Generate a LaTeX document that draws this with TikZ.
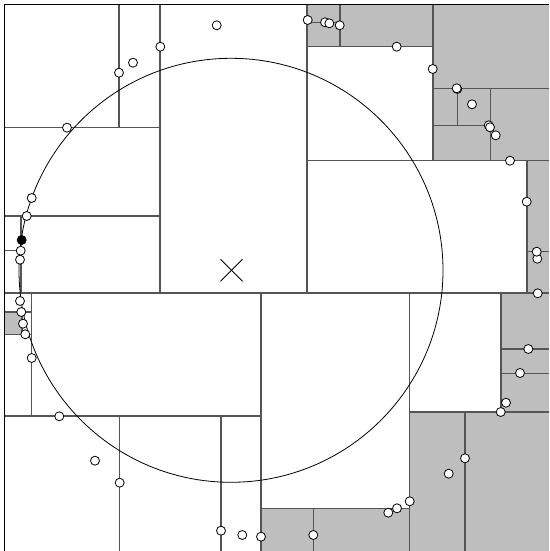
\documentclass[tikz,border=0pt]{standalone}
\begin{document}
\definecolor{shade}{RGB}{190,190,190}
\definecolor{partline}{RGB}{85,85,85}
\begin{tikzpicture}[x=1pt,y=-1pt,
  cell/.style={fill=shade,draw=none},
  part/.style={draw=partline,line width=1.1pt},
  frame/.style={draw=black,line width=1.3pt},
  ball/.style={draw=black,line width=0.8pt},
  pt/.style={circle,draw=black,fill=white,line width=0.8pt,inner sep=0pt,minimum size=9pt},
  nn/.style={pt,fill=black}]
\useasboundingbox (0,0) rectangle (549,551);
% gray cells
\fill[cell] (307,4.3) rectangle (433,46.7);
\fill[cell] (433,4.3) rectangle (549,160.7);
\fill[cell] (527,160.7) rectangle (549,293);
\fill[cell] (501,293) rectangle (549,412);
\fill[cell] (409.5,412) rectangle (549,551);
\fill[cell] (261,508.3) rectangle (409.5,551);
\fill[cell] (4.7,312) rectangle (22,334.3);
% partition lines, top half
\draw[part] (4.7,293)--(549,293);
\draw[part] (160,4.3)--(160,293);
\draw[part] (4.7,127.5)--(160,127.5);
\draw[part] (119,4.3)--(119,127.5);
\draw[part] (4.7,216)--(160,216);
\draw[part] (21,216)--(21,293);
\draw[part] (4.7,250.5)--(21,250.5);
\draw[part] (307,4.3)--(307,293);
\draw[part] (307,160.7)--(549,160.7);
\draw[part] (433,4.3)--(433,160.7);
\draw[part] (307,46.7)--(433,46.7);
\draw[part] (340,4.3)--(340,46.7);
\draw[part] (307,22.5)--(340,22.5);
\draw[part] (433,88.3)--(549,88.3);
\draw[part] (490.5,88.3)--(490.5,160.7);
\draw[part] (433,125.3)--(490.5,125.3);
\draw[part] (457.7,88.3)--(457.7,125.3);
\draw[part] (527,160.7)--(527,293);
\draw[part] (527,251.7)--(549,251.7);
% partition lines, bottom half
\draw[part] (261,293)--(261,551);
\draw[part] (409.5,293)--(409.5,551);
\draw[part] (4.7,416)--(261,416);
\draw[part] (31.7,293)--(31.7,416);
\draw[part] (4.7,312)--(31.7,312);
\draw[part] (4.7,334.3)--(31.7,334.3);
\draw[part] (22,312)--(22,334.3);
\draw[part] (119.7,416)--(119.7,551);
\draw[part] (221,416)--(221,551);
\draw[part] (261,508.3)--(409.5,508.3);
\draw[part] (313.3,508.3)--(313.3,551);
\draw[part] (409.5,412)--(549,412);
\draw[part] (501,293)--(501,412);
\draw[part] (501,349)--(549,349);
\draw[part] (501,373.3)--(549,373.3);
\draw[part] (465,412)--(465,551);
% frame
\draw[frame] (4.7,551)--(4.7,4.3)--(549,4.3);
% search ball and query
\draw[ball] (231,270.3) circle[radius=212pt];
\coordinate (q) at (231.5,270.3);
\draw[ball] ([shift={(-11,-11)}]q)--([shift={(11,11)}]q);
\draw[ball] ([shift={(-11,11)}]q)--([shift={(11,-11)}]q);
% points
\node[pt] (p1) at (216.7,25.3) {};
\node[pt] (p2) at (160.3,46.7) {};
\node[pt] (p3) at (133,62.7) {};
\node[pt] (p4) at (119,72.7) {};
\node[pt] (p5) at (67,127.7) {};
\node[pt] (p6) at (31.7,198) {};
\node[pt] (p7) at (26.7,216) {};
\node[pt] (p9) at (20.7,250.7) {};
\node[pt] (p10) at (20,259.7) {};
\node[nn] (p8) at (21.7,240) {};
\node[pt] (p11) at (307.7,20) {};
\node[pt] (p12) at (325,22.3) {};
\node[pt] (p13) at (329.3,23.3) {};
\node[pt] (p14) at (339.7,25.3) {};
\node[pt] (p15) at (396.7,46.7) {};
\node[pt] (p16) at (432.7,69) {};
\node[pt] (p17) at (457.3,89) {};
\node[pt] (p18) at (456.7,88.3) {};
\node[pt] (p19) at (472,104.3) {};
\node[pt] (p20) at (488.7,125.3) {};
\node[pt] (p21) at (490,127.3) {};
\node[pt] (p22) at (495.7,135.3) {};
\node[pt] (p23) at (510,160.7) {};
\node[pt] (p24) at (526.7,201.7) {};
\node[pt] (p26) at (537.3,258.7) {};
\node[pt] (p25) at (536.7,251.7) {};
\node[pt] (p27) at (537.7,293.3) {};
\node[pt] (p28) at (528.3,349) {};
\node[pt] (p29) at (520,373) {};
\node[pt] (p30) at (506,402.7) {};
\node[pt] (p31) at (500.7,412) {};
\node[pt] (p32) at (465,458.3) {};
\node[pt] (p33) at (448.7,473.7) {};
\node[pt] (p34) at (409.7,501.3) {};
\node[pt] (p36) at (388.3,512.7) {};
\node[pt] (p35) at (397,508.3) {};
\node[pt] (p37) at (313.3,535) {};
\node[pt] (p38) at (261,536.7) {};
\node[pt] (p39) at (242.3,535) {};
\node[pt] (p40) at (221,530.7) {};
\node[pt] (p41) at (119.7,482.7) {};
\node[pt] (p42) at (95,460.7) {};
\node[pt] (p43) at (59.3,416.3) {};
\node[pt] (p44) at (31.7,358) {};
\node[pt] (p45) at (25.3,334.3) {};
\node[pt] (p46) at (23,323.7) {};
\node[pt] (p47) at (21.3,312) {};
\node[pt] (p48) at (20,301) {};
\end{tikzpicture}
\end{document}
